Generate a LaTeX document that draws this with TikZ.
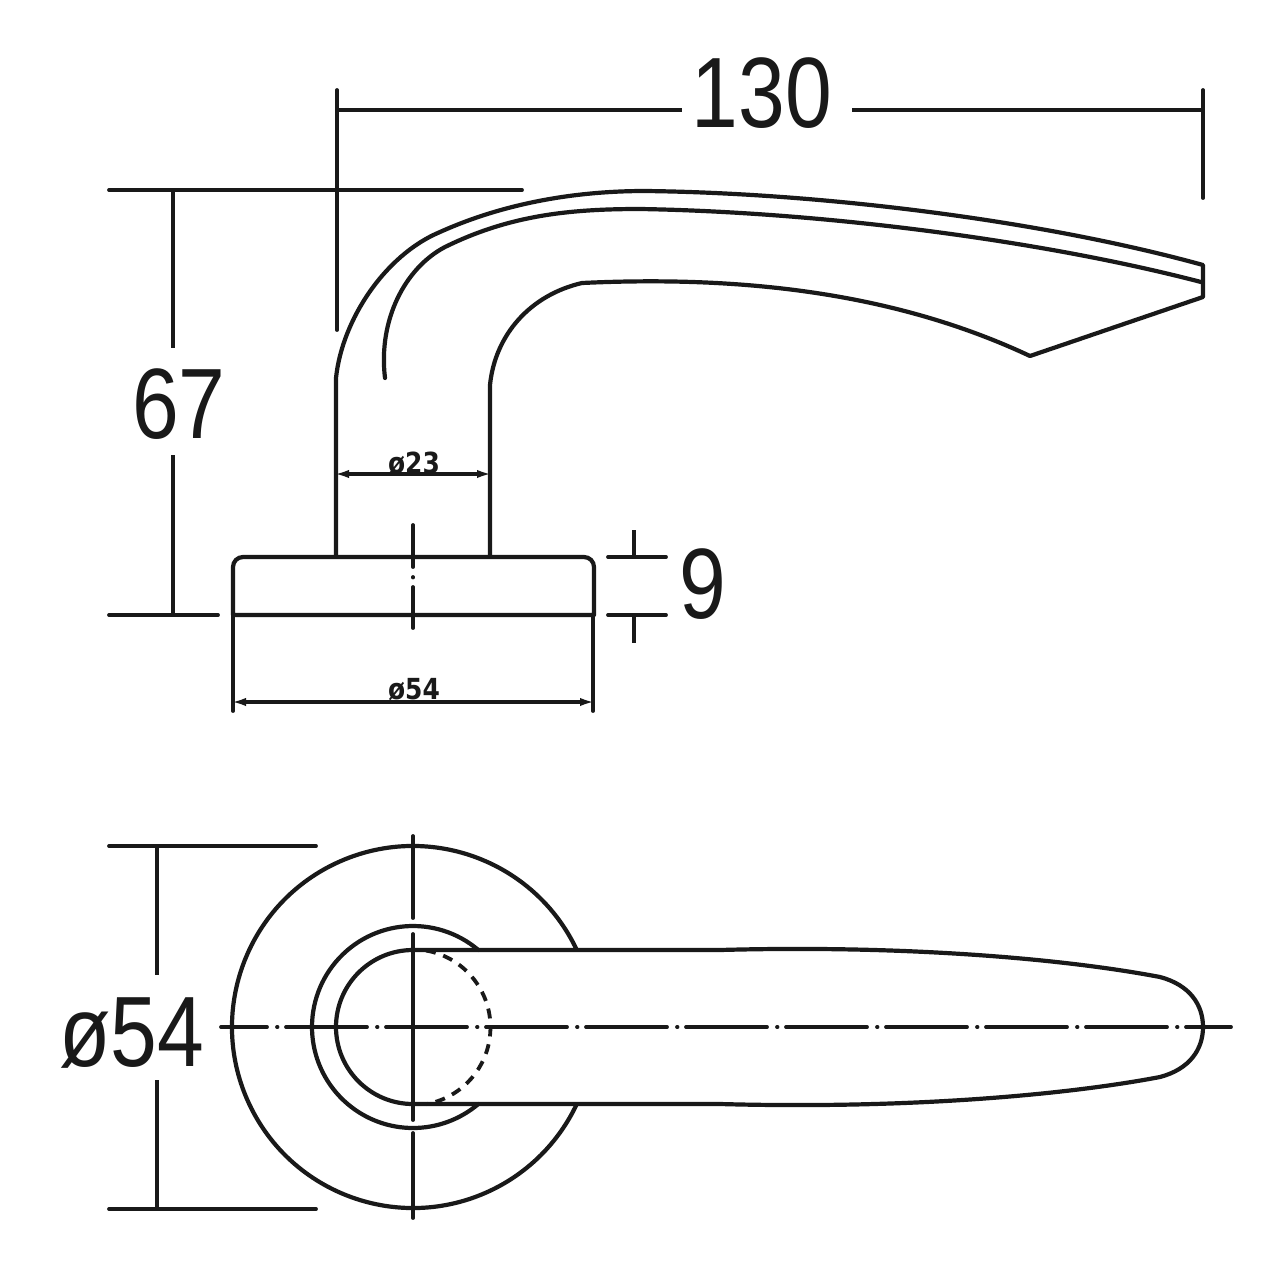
\documentclass[tikz,border=0pt]{standalone}
\usepackage{fontspec}
\usetikzlibrary{arrows.meta}
\setmainfont{Liberation Sans}
\newfontfamily\bigdim{Liberation Sans}
\newfontfamily\smalldim{DejaVu Sans Bold}
\tikzset{
  part/.style={line width=4.2pt,line join=round,line cap=round,black!90},
  dimline/.style={line width=3.8pt,line cap=butt,black!90},
  extline/.style={line width=3.8pt,line cap=round,black!90},
  centre/.style={line width=3.8pt,black!90},
  smallarrow/.style={line width=3.8pt,black!90,{Latex[length=17pt,width=8pt]}-{Latex[length=17pt,width=8pt]}},
  bigtext/.style={inner sep=0pt,black!90,font=\bigdim\fontsize{100}{100}\selectfont},
  smalltext/.style={inner sep=0pt,black!90,font=\smalldim\fontsize{29}{29}\selectfont}
}
\begin{document}
\begin{tikzpicture}[x=1pt,y=-1pt]
\useasboundingbox (0,0) rectangle (1280,1280);
\fill[white] (0,0) rectangle (1280,1280);
% side view: lever
\draw[part] (336,555) -- (336,378) .. controls (342,320) and (385,255) .. (440,232)
  .. controls (500,205) and (570,191) .. (645,191)
  .. controls (820,193) and (1040,220) .. (1203,265)
  -- (1203,297) -- (1030,356)
  .. controls (900,295) and (750,275) .. (582,283)
  .. controls (530,295) and (495,335) .. (490,385) -- (490,555);
\draw[part] (385,378) .. controls (378,320) and (405,268) .. (445,247)
  .. controls (510,215) and (570,209) .. (640,209)
  .. controls (820,212) and (1040,240) .. (1201,282);
% side view: rose
\draw[part] (233,615) -- (233,567) arc[start angle=180,end angle=270,radius=10]
  -- (584,557) arc[start angle=270,end angle=360,radius=10] -- (594,615) -- cycle;
\draw[extline] (233,615) -- (233,711);
\draw[extline] (593,615) -- (593,711);
\draw[extline] (413,525) -- (413,567);
\draw[extline] (413,577) -- (413,577.5);
\draw[extline] (413,587) -- (413,628);
% side view: dimensions
\draw[smallarrow] (332,474) -- (494,474);
\draw[smallarrow] (229,702) -- (597,702);
\node[smalltext] (d23) at (414,463) {\scalebox{.86}[1]{ø23}};
\node[smalltext] (d54a) at (414,690) {\scalebox{.86}[1]{ø54}};
\draw[extline] (337,90) -- (337,330);
\draw[extline] (1203,90) -- (1203,198);
\draw[dimline] (337,110) -- (682,110);
\draw[dimline] (852,110) -- (1203,110);
\node[bigtext] (w130) at (762,93) {\scalebox{.84}[1]{130}};
\draw[extline] (109,190) -- (522,190);
\draw[extline] (109,615) -- (218,615);
\draw[dimline] (173,190) -- (173,348);
\draw[dimline] (173,455) -- (173,615);
\node[bigtext] (h67) at (179,404) {\scalebox{.84}[1]{67}};
\draw[extline] (608,557) -- (666,557);
\draw[extline] (608,615) -- (666,615);
\draw[dimline] (634,530) -- (634,557);
\draw[dimline] (634,615) -- (634,643);
\node[bigtext] (t9) at (703,584) {\scalebox{.84}[1]{9}};
% front view
\draw[part] (413,1027) ++(-25.2:181) arc[start angle=-25.2,end angle=-334.8,radius=181];
\draw[part] (413,1027) ++(-49.7:101) arc[start angle=-49.7,end angle=-310.3,radius=101];
\draw[part] (413,950) arc[start angle=-90,end angle=-270,radius=77];
\draw[part] (413,950) -- (720,950)
  .. controls (900,945) and (1060,958) .. (1160,977)
  .. controls (1190,985) and (1203,1005) .. (1203,1027)
  .. controls (1203,1049) and (1190,1069) .. (1160,1077)
  .. controls (1060,1096) and (900,1109) .. (720,1104)
  -- (413,1104);
\draw[line width=3.8pt,black!90,line cap=butt,dash pattern=on 10pt off 8pt] (426,950.5) arc[start angle=-80,end angle=80,radius=78];
\draw[centre,line cap=round,dash pattern=on 81pt off 10pt on 0.5pt off 8.5pt,dash phase=35pt] (221,1027) -- (1231,1027);
\draw[extline] (413,836) -- (413,918);
\draw[extline] (413,934) -- (413,1120);
\draw[extline] (413,1133) -- (413,1218);
\draw[extline] (109,846) -- (316,846);
\draw[extline] (109,1209) -- (316,1209);
\draw[dimline] (157,846) -- (157,975);
\draw[dimline] (157,1080) -- (157,1209);
\node[bigtext] (d54b) at (132,1033) {\scalebox{.84}[1]{ø54}};
\end{tikzpicture}
\end{document}
